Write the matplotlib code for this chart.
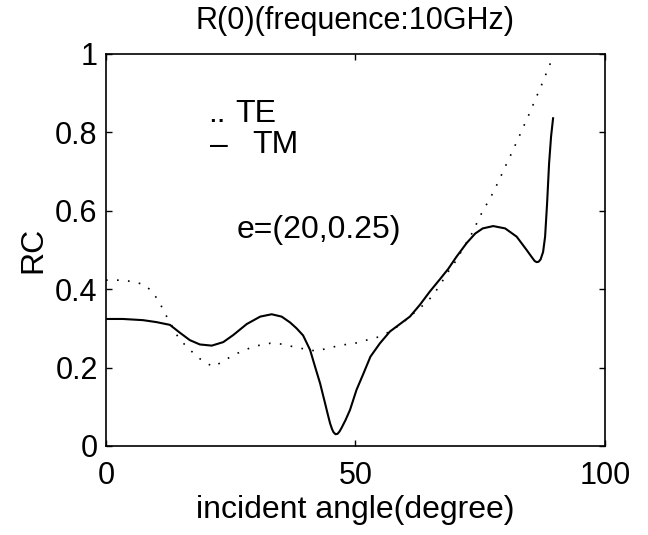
import matplotlib
matplotlib.use("Agg")
import matplotlib.pyplot as plt
import matplotlib.ticker as ticker
import numpy as np

plt.rcParams['font.family'] = ['Liberation Sans', 'DejaVu Sans']

# TE polarisation (dotted)
te_angle = [0, 3.1, 5.5, 7.8, 9.5, 10.8, 12.0, 14.3, 15.8, 17.6, 19.5, 21.6,
            23.8, 25.9, 28.2, 30.4, 32.9, 35.2, 37.6, 39.9, 42.2, 44.9, 47.6,
            49.9, 52.2, 54.9, 56.9, 58.9, 60.9, 62.6, 64.4, 65.9, 67.3, 68.6,
            70.0, 73.6, 74.6, 75.7, 77.0, 78.1, 79.1, 80.1, 81.1, 82.1, 83.1,
            84.1, 85.1, 86.0, 87.0, 87.9, 88.8, 89.2]
te_rc = [0.423, 0.423, 0.419, 0.411, 0.390, 0.364, 0.334, 0.281, 0.258, 0.236,
         0.215, 0.202, 0.219, 0.234, 0.247, 0.256, 0.262, 0.260, 0.253, 0.247,
         0.242, 0.251, 0.258, 0.262, 0.270, 0.279, 0.292, 0.309, 0.330, 0.349,
         0.368, 0.391, 0.418, 0.445, 0.470, 0.548, 0.577, 0.604, 0.632, 0.660,
         0.687, 0.715, 0.742, 0.770, 0.798, 0.827, 0.855, 0.883, 0.912, 0.940,
         0.969, 0.980]

# TM polarisation (solid)
tm_angle = [0, 3.4, 7.4, 10.1, 12.8, 14.8, 16.8, 18.8, 21.2, 23.5, 25.5, 28.2,
            30.9, 33.2, 35.2, 36.9, 38.2, 39.5, 40.9, 41.9, 42.9, 43.9, 44.4,
            44.9, 45.3, 45.6, 46.0, 46.4, 46.8, 47.2, 48.0, 48.9, 50.2, 51.6,
            53.0, 54.9, 56.9, 58.9, 60.9, 62.9, 64.9, 66.9, 68.6, 70.2, 72.3,
            74.0, 75.5, 77.6, 80.0, 82.3, 84.3, 85.2, 85.9, 86.3, 86.7, 87.1,
            87.6, 88.0, 88.4, 88.8, 89.2, 89.6]
tm_rc = [0.324, 0.324, 0.321, 0.316, 0.309, 0.289, 0.270, 0.259, 0.256, 0.265,
         0.283, 0.311, 0.330, 0.336, 0.330, 0.315, 0.300, 0.282, 0.245, 0.202,
         0.160, 0.109, 0.083, 0.058, 0.043, 0.035, 0.030, 0.031, 0.037, 0.046,
         0.066, 0.092, 0.143, 0.185, 0.228, 0.262, 0.292, 0.311, 0.330, 0.360,
         0.394, 0.425, 0.452, 0.482, 0.518, 0.542, 0.555, 0.561, 0.555, 0.534,
         0.500, 0.484, 0.472, 0.469, 0.470, 0.476, 0.495, 0.534, 0.619, 0.721,
         0.790, 0.836]

x_ticks = [0, 50, 100]
y_ticks = [0, 0.2, 0.4, 0.6, 0.8, 1]

fig = plt.figure(figsize=(6.48, 5.35), dpi=100)
ax = fig.add_axes([0.1636, 0.1664, 0.770, 0.7327])

ax.plot(te_angle, te_rc, color='black', lw=1.2, linestyle=(0, (1, 5.6)))
ax.plot(tm_angle, tm_rc, color='black', lw=1.5)

ax.set_xlim(0, 100)
ax.set_ylim(0, 1)
ax.set_xticks(x_ticks)
ax.set_yticks(y_ticks)
ax.yaxis.set_major_formatter(ticker.FuncFormatter(lambda v, p: '%g' % v))
ax.xaxis.set_major_formatter(ticker.FuncFormatter(lambda v, p: '%g' % v))

# matlab style ticks: inward, on every side
ax.tick_params(direction='in', length=4.5, width=1, top=True, right=True,
               labelsize=22, colors='black')
ax.tick_params(axis='x', pad=11)
ax.tick_params(axis='y', pad=6)
for sp in ax.spines.values():
    sp.set_linewidth(1.2)

ax.set_xlabel('incident angle(degree)', fontsize=23)
ax.set_ylabel('RC', fontsize=23)
ax.xaxis.set_label_coords(0.5, -0.126)
ax.yaxis.set_label_coords(-0.115, 0.5)
ax.set_title('R(0)(frequence:10GHz)', fontsize=22, y=1.0638, pad=0)

# hand-placed legend and parameter note
ax.text(20.4, 0.827, '..', fontsize=23)
ax.text(26.0, 0.827, 'TE', fontsize=23)
ax.text(20.8, 0.745, '\u2013', fontsize=23)
ax.text(29.3, 0.747, 'TM', fontsize=23)
ax.text(26.2, 0.531, 'e=(20,0.25)', fontsize=23)

fig.savefig('out.png', dpi=100)
